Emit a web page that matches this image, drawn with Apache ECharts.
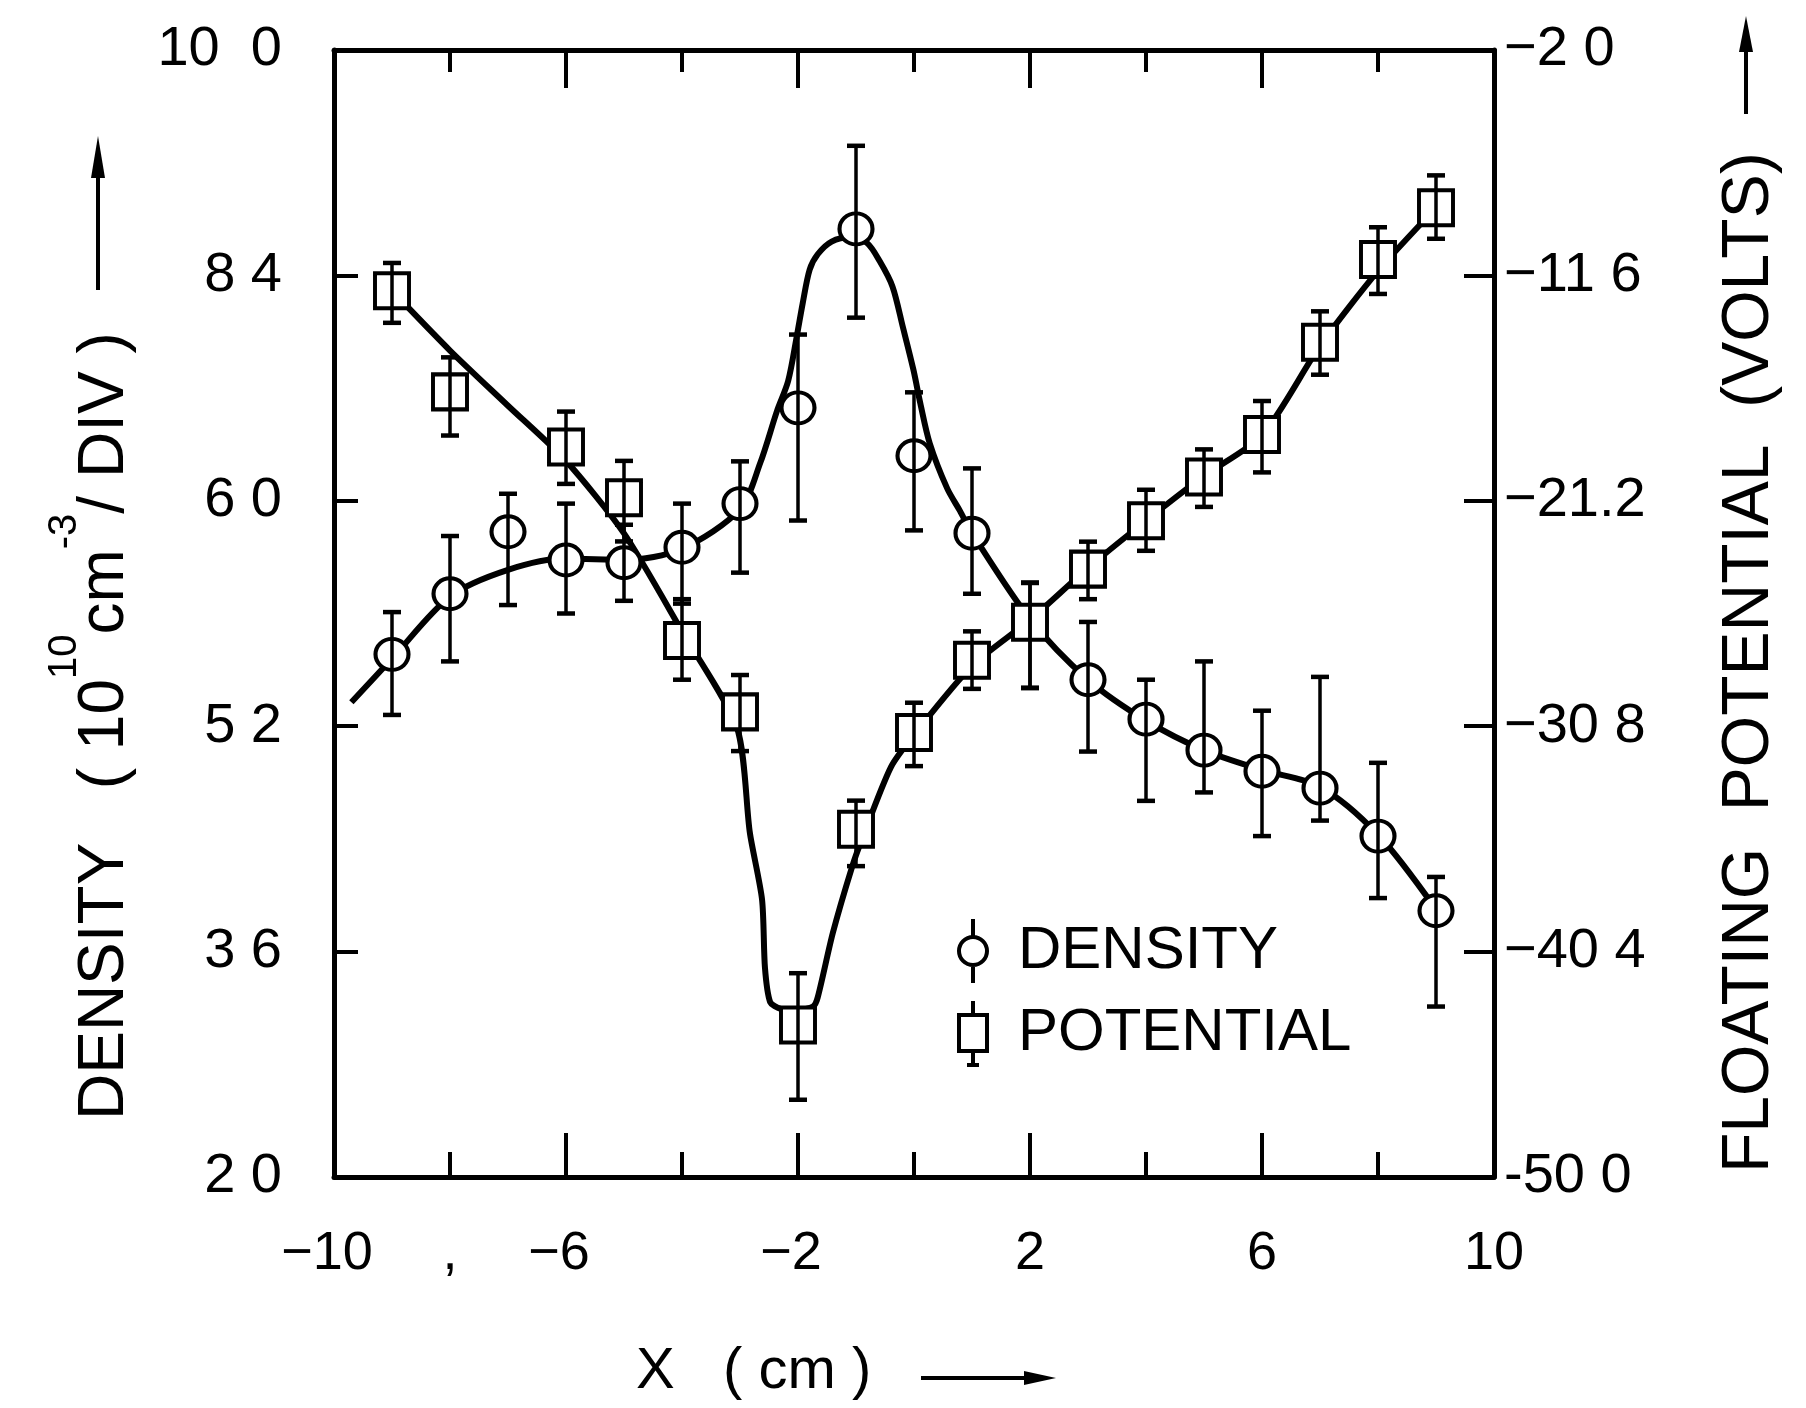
<!DOCTYPE html>
<html>
<head>
<meta charset="utf-8">
<script src="https://cdn.jsdelivr.net/npm/echarts/dist/echarts.min.js"></script>
<style>
html,body{margin:0;padding:0;background:#fff;}
#chart{width:1806px;height:1408px;}
</style>
</head>
<body>
<div id="chart"></div>
<script>
// ---------- data ----------
const densityX = [-9,-8,-7,-6,-5,-4,-3,-2,-1,0,1,2,3,4,5,6,7,8,9];
const densityY = [5.71,6.14,6.58,6.38,6.36,6.47,6.78,7.46,8.73,7.12,6.57,5.94,5.53,5.25,5.03,4.88,4.76,4.42,3.89];
const densityHigh = [6.01,6.55,6.85,6.78,6.63,6.78,7.08,7.98,9.32,7.57,7.03,6.22,5.94,5.53,5.66,5.31,5.55,4.94,4.13];
const densityLow = [5.28,5.66,6.06,6.00,6.09,6.07,6.29,6.66,8.10,6.59,6.14,5.47,5.02,4.67,4.73,4.42,4.53,3.98,3.21];

const potentialX = [-9,-8,-6,-5,-4,-3,-2,-1,0,1,2,3,4,5,6,7,8,9];
const potentialY = [-12.25,-16.56,-18.91,-21.07,-27.15,-30.19,-43.53,-35.19,-31.07,-27.99,-26.37,-24.11,-22.05,-20.19,-18.38,-14.45,-10.92,-8.72];
const potentialHigh = [-11.07,-15.09,-17.40,-19.50,-25.39,-28.62,-41.32,-33.97,-29.80,-26.76,-24.70,-22.94,-20.73,-19.01,-16.95,-13.13,-9.55,-7.34];
const potentialLow = [-13.62,-18.42,-20.48,-22.93,-28.82,-31.86,-46.71,-36.76,-32.50,-29.21,-29.16,-25.39,-23.33,-21.46,-19.99,-15.83,-12.39,-10.04];

const densityCurveX = [-9.7,-9,-8,-7,-6,-5,-4,-3,-2.65,-2.36,-2.17,-2.02,-1.92,-1.8,-1.66,-1.42,-1.1,-0.81,-0.59,-0.37,-0.19,-0.01,0.11,0.27,0.57,0.79,1,2,3,4,5,6,7,8,9];
const densityCurveY = [5.37,5.68,6.12,6.31,6.39,6.38,6.46,6.74,7.07,7.44,7.65,7.97,8.20,8.44,8.55,8.64,8.67,8.63,8.50,8.32,8.03,7.73,7.49,7.21,6.89,6.73,6.57,5.96,5.53,5.24,5.03,4.89,4.77,4.43,3.90];

const potentialCurveX = [-9,-8,-7,-6,-5,-4,-3.05,-2.83,-2.62,-2.57,-2.48,-2.3,-2.0,-1.74,-1.66,-1.4,-1.07,-0.9,-0.4,0,1,2,3,4,5,6,7,8,9];
const potentialCurveY = [-12.25,-14.80,-17.15,-19.50,-22.59,-26.76,-30.88,-35.34,-38.18,-41.08,-42.55,-42.84,-42.89,-42.74,-42.35,-39.61,-36.81,-35.63,-32.55,-31.17,-28.23,-26.27,-24.06,-22.05,-20.14,-18.42,-14.60,-11.41,-8.72];

// tick values and their printed labels
const leftTickValues = [2, 3.6, 5.2, 6.8, 8.4, 10];
const leftTickLabels = ['2 0', '3 6', '5 2', '6 0', '8 4', '10  0'];
const rightTickValues = [-50, -40.4, -30.8, -21.2, -11.6, -2];
const rightTickLabels = ['-50 0', '\u221240 4', '\u221230 8', '\u221221.2', '\u221211 6', '\u22122 0'];
const xLabelValues = [-10, -8, -6, -2, 2, 6, 10];
const xLabelTexts = ['\u221210', ',', '\u22126', '\u22122', '2', '6', '10'];
const xLongTicks = [-6, -2, 2, 6];
const xShortTicks = [-8, -4, 0, 4, 8];

// ---------- chart ----------
const FONT = 'Liberation Sans';
const chart = echarts.init(document.getElementById('chart'), null, {renderer: 'canvas'});

function lookup(values, labels, v) {
  for (let i = 0; i < values.length; i++) {
    if (Math.abs(values[i] - v) < 1e-6) return labels[i];
  }
  return '';
}
function zip(a, b) { return a.map((v, i) => [v, b[i]]); }
function zip3(a, b, c) { return a.map((v, i) => [v, b[i], c[i]]); }

function errRender(params, api) {
  const x = api.value(0);
  const top = api.coord([x, api.value(2)]);
  const bot = api.coord([x, api.value(1)]);
  const c = 9;
  return {
    type: 'group',
    children: [
      {type: 'line', shape: {x1: top[0], y1: top[1], x2: bot[0], y2: bot[1]}, style: {stroke: '#000', lineWidth: 3.5}},
      {type: 'line', shape: {x1: top[0] - c, y1: top[1], x2: top[0] + c, y2: top[1]}, style: {stroke: '#000', lineWidth: 4.5}},
      {type: 'line', shape: {x1: bot[0] - c, y1: bot[1], x2: bot[0] + c, y2: bot[1]}, style: {stroke: '#000', lineWidth: 4.5}}
    ]
  };
}

const axisLineStyle = {color: '#000', width: 5};
const baseX = {type: 'value', min: -10, max: 10, splitLine: {show: false}};

const densityIcon = 'path://M16 0 L16 17 M30 32 A14 14 0 1 1 2 32 A14 14 0 1 1 30 32 Z M16 46 L16 64';
const potentialIcon = 'path://M16 0 L16 14 M2 14 L30 14 L30 50 L2 50 Z M16 50 L16 64 M10 64 L22 64';

const option = {
  animation: false,
  backgroundColor: '#fff',
  grid: {left: 334, right: 312, top: 50, bottom: 231, containLabel: false},
  legend: {
    orient: 'vertical',
    left: 952, top: 912,
    itemWidth: 32, itemHeight: 64, itemGap: 14,
    selectedMode: false,
    data: [
      {name: 'DENSITY', icon: densityIcon},
      {name: 'POTENTIAL', icon: potentialIcon}
    ],
    itemStyle: {color: '#fff', borderColor: '#000', borderWidth: 4},
    formatter: n => '{t|' + n + '}',
    textStyle: {
      rich: {t: {fontFamily: FONT, fontSize: 60, color: '#000', padding: [0, 0, 0, 24]}}
    }
  },
  xAxis: [
    Object.assign({}, baseX, {
      position: 'bottom',
      axisLine: {show: true, onZero: false, lineStyle: axisLineStyle},
      axisTick: {show: true, inside: true, length: 44, customValues: xLongTicks, lineStyle: {color: '#000', width: 4}},
      axisLabel: {
        show: true, margin: 50, customValues: xLabelValues,
        fontFamily: FONT, fontSize: 54, color: '#000',
        formatter: v => {
          const t = lookup(xLabelValues, xLabelTexts, v);
          return t.charAt(0) === '\u2212' ? '{neg|' + t + '}' : '{p|' + t + '}';
        },
        rich: {
          neg: {fontFamily: FONT, fontSize: 54, color: '#000', padding: [0, 14, 0, 0]},
          p: {fontFamily: FONT, fontSize: 54, color: '#000'}
        }
      }
    }),
    Object.assign({}, baseX, {
      position: 'bottom',
      axisLine: {show: false, onZero: false},
      axisTick: {show: true, inside: true, length: 25, customValues: xShortTicks, lineStyle: {color: '#000', width: 4}},
      axisLabel: {show: false}
    }),
    Object.assign({}, baseX, {
      position: 'top',
      axisLine: {show: true, onZero: false, lineStyle: axisLineStyle},
      axisTick: {show: true, inside: true, length: 38, customValues: xLongTicks, lineStyle: {color: '#000', width: 4}},
      axisLabel: {show: false}
    }),
    Object.assign({}, baseX, {
      position: 'top',
      axisLine: {show: false, onZero: false},
      axisTick: {show: true, inside: true, length: 22, customValues: xShortTicks, lineStyle: {color: '#000', width: 4}},
      axisLabel: {show: false}
    })
  ],
  yAxis: [
    {
      type: 'value', position: 'left', min: 2, max: 10,
      splitLine: {show: false},
      axisLine: {show: true, onZero: false, lineStyle: axisLineStyle},
      axisTick: {show: true, inside: true, length: 24, customValues: [3.6, 5.2, 6.8, 8.4], lineStyle: {color: '#000', width: 4}},
      axisLabel: {
        show: true, margin: 52, customValues: leftTickValues,
        fontFamily: FONT, fontSize: 56, color: '#000',
        formatter: v => lookup(leftTickValues, leftTickLabels, v)
      }
    },
    {
      type: 'value', position: 'right', min: -50, max: -2,
      splitLine: {show: false},
      axisLine: {show: true, onZero: false, lineStyle: axisLineStyle},
      axisTick: {show: true, inside: true, length: 30, customValues: [-40.4, -30.8, -21.2, -11.6], lineStyle: {color: '#000', width: 4}},
      axisLabel: {
        show: true, margin: 10, customValues: rightTickValues,
        fontFamily: FONT, fontSize: 56, color: '#000',
        formatter: v => lookup(rightTickValues, rightTickLabels, v)
      }
    }
  ],
  graphic: [
    {
      type: 'text', x: 105, y: 1120, rotation: Math.PI / 2, silent: true,
      style: {
        text: '{n|DENSITY   ( 10}{s|10}{n|cm}{s|-3}{n|/ DIV )}',
        align: 'left', verticalAlign: 'middle',
        rich: {
          n: {fontFamily: FONT, fontSize: 64, fill: '#000', lineHeight: 120},
          s: {fontFamily: FONT, fontSize: 40, fill: '#000', lineHeight: 20, verticalAlign: 'top'}
        }
      }
    },
    {type: 'line', silent: true, shape: {x1: 98, y1: 290, x2: 98, y2: 150}, style: {stroke: '#000', lineWidth: 4}},
    {type: 'polygon', silent: true, shape: {points: [[98, 136], [91, 178], [105, 178]]}, style: {fill: '#000'}},
    {
      type: 'text', x: 1750, y: 1173, rotation: Math.PI / 2, silent: true,
      style: {
        text: 'FLOATING  POTENTIAL  (VOLTS)',
        align: 'left', verticalAlign: 'middle',
        fontFamily: FONT, fontSize: 66, fill: '#000'
      }
    },
    {type: 'line', silent: true, shape: {x1: 1746, y1: 114, x2: 1746, y2: 30}, style: {stroke: '#000', lineWidth: 4}},
    {type: 'polygon', silent: true, shape: {points: [[1746, 16], [1739, 52], [1753, 52]]}, style: {fill: '#000'}},
    {
      type: 'text', x: 636, y: 1372, silent: true,
      style: {
        text: 'X   ( cm )', align: 'left', verticalAlign: 'middle',
        fontFamily: FONT, fontSize: 58, fill: '#000'
      }
    },
    {type: 'line', silent: true, shape: {x1: 921, y1: 1378, x2: 1030, y2: 1378}, style: {stroke: '#000', lineWidth: 4}},
    {type: 'polygon', silent: true, shape: {points: [[1056, 1378], [1024, 1371], [1024, 1385]]}, style: {fill: '#000'}}
  ],
  series: [
    {
      name: 'densityCurve', type: 'line', xAxisIndex: 0, yAxisIndex: 0,
      data: zip(densityCurveX, densityCurveY),
      smooth: 0.3, showSymbol: false, symbol: 'none', z: 2,
      lineStyle: {color: '#000', width: 6}, silent: true
    },
    {
      name: 'potentialCurve', type: 'line', xAxisIndex: 0, yAxisIndex: 1,
      data: zip(potentialCurveX, potentialCurveY),
      smooth: 0.25, showSymbol: false, symbol: 'none', z: 2,
      lineStyle: {color: '#000', width: 6}, silent: true
    },
    {
      name: 'DENSITY', type: 'scatter', xAxisIndex: 0, yAxisIndex: 0,
      data: zip(densityX, densityY),
      symbol: 'circle', symbolSize: [33, 31], z: 3,
      itemStyle: {color: '#fff', borderColor: '#000', borderWidth: 4, opacity: 1}
    },
    {
      name: 'POTENTIAL', type: 'scatter', xAxisIndex: 0, yAxisIndex: 1,
      data: zip(potentialX, potentialY),
      symbol: 'rect', symbolSize: [34, 35], z: 3,
      itemStyle: {color: '#fff', borderColor: '#000', borderWidth: 4, opacity: 1}
    },
    {
      name: 'densityErr', type: 'custom', xAxisIndex: 0, yAxisIndex: 0,
      data: zip3(densityX, densityLow, densityHigh),
      encode: {x: 0, y: [1, 2]}, renderItem: errRender, z: 4, silent: true
    },
    {
      name: 'potentialErr', type: 'custom', xAxisIndex: 0, yAxisIndex: 1,
      data: zip3(potentialX, potentialLow, potentialHigh),
      encode: {x: 0, y: [1, 2]}, renderItem: errRender, z: 4, silent: true
    }
  ]
};
chart.setOption(option);
</script>
</body>
</html>
